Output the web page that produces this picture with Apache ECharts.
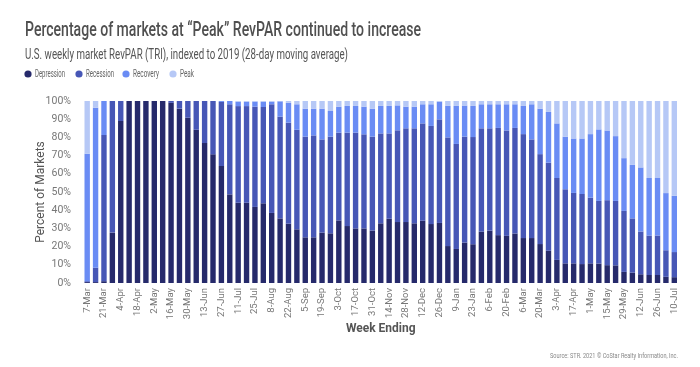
<!DOCTYPE html>
<html>
<head>
<meta charset="utf-8">
<script src="https://cdn.jsdelivr.net/npm/echarts@6/dist/echarts.min.js"></script>
<style>
html,body{margin:0;padding:0;background:#fff;}
#chart{width:700px;height:367px;}
</style>
</head>
<body>
<div id="chart"></div>
<script>
var weeks = ['7-Mar','14-Mar','21-Mar','28-Mar','4-Apr','11-Apr','18-Apr','25-Apr','2-May','9-May','16-May','23-May','30-May','6-Jun','13-Jun','20-Jun','27-Jun','4-Jul','11-Jul','18-Jul','25-Jul','1-Aug','8-Aug','15-Aug','22-Aug','29-Aug','5-Sep','12-Sep','19-Sep','26-Sep','3-Oct','10-Oct','17-Oct','24-Oct','31-Oct','7-Nov','14-Nov','21-Nov','28-Nov','5-Dec','12-Dec','19-Dec','26-Dec','2-Jan','9-Jan','16-Jan','23-Jan','30-Jan','6-Feb','13-Feb','20-Feb','27-Feb','6-Mar','13-Mar','20-Mar','27-Mar','3-Apr','10-Apr','17-Apr','24-Apr','1-May','8-May','15-May','22-May','29-May','5-Jun','12-Jun','19-Jun','26-Jun','3-Jul','10-Jul'];

var depression = [0.5,0.5,1,27.7,89,100,100,100,100,100,99,95.8,90.8,84.2,76.9,70.7,64.3,48.7,44.1,44.1,41.8,43.8,38.5,35.5,32.6,29.5,25.1,25.1,27.7,27.3,34.4,31.3,30,30,28.8,32.8,35.3,33.5,33.5,32.8,34.2,32.4,33,20.3,18.7,22.2,21.3,28.2,28.8,26.3,25.9,27.2,24.7,24.7,21.4,17.7,12.7,10.8,10.8,10.4,10.8,10.7,9.8,9.7,6.1,5.7,4.8,4.4,4.4,3.4,3.2];
var recession = [0.5,7.9,80.3,72.3,11,0,0,0,0,0,1,4.2,9.2,15.8,23.1,29.3,35.2,49.5,53.1,53.1,55.1,52.9,59.7,55.9,55.5,54.7,55.3,56,51.2,53.1,48.2,51.3,52.6,51.7,51.6,49.4,46.9,50.4,51.5,52.2,53.5,53.9,56.9,59.7,57.7,58.2,58.9,56.8,56.2,58.9,57.9,58,57.1,54.2,49.4,48.4,45,40.7,38.7,38.5,36.1,34.4,35.7,35.4,33.5,29.8,23.5,21.7,21.7,14.6,13.8];
var recovery = [70,87.9,18.7,0,0,0,0,0,0,0,0,0,0,0,0,0,0.5,1.8,2.4,2.4,2.7,2.9,1.4,8.4,10.9,14,15.4,14.7,16.9,14.1,14.3,14.7,14.7,15.2,15.4,15.1,15.1,13.7,11.9,11.9,10.5,11.9,9.7,17.3,20.9,17.1,17.1,13.2,13.2,13,14.4,13,15.5,19.3,25,27.9,30,28.9,29.9,30.5,34.9,39.3,38.3,35.6,29,29.4,35.2,31.6,31.6,31.4,30.9];
var peak = [29,3.7,0,0,0,0,0,0,0,0,0,0,0,0,0,0,0,0,0.4,0.4,0.4,0.4,0.4,0.2,1,1.8,4.2,4.2,4.2,5.5,3.1,2.7,2.7,3.1,4.2,2.7,2.7,2.4,3.1,3.1,1.8,1.8,0.4,2.7,2.7,2.5,2.7,1.8,1.8,1.8,1.8,1.8,2.7,1.8,4.2,6,12.3,19.6,20.6,20.6,18.2,15.6,16.2,19.3,31.4,35.1,36.5,42.3,42.3,50.6,52.1];

var yTicks = [0,10,20,30,40,50,60,70,80,90,100];
var seriesNames = ['Depression','Recession','Recovery','Peak'];
var titleText = 'Percentage of markets at \u201cPeak\u201d RevPAR continued to increase';
var subtitleText = 'U.S. weekly market RevPAR (TRI), indexed to 2019 (28-day moving average)';
var sourceText = 'Source: STR. 2021 \u00a9 CoStar Realty Information, Inc.';

var FONT = "Roboto";
var colors = ['#262a6b','#4757b6','#6a8cf4','#b6c8f6'];
var seriesData = [depression, recession, recovery, peak];

var measureCtx = document.createElement('canvas').getContext('2d');
function textWidth(t, size, weight){
  measureCtx.font = (weight||'normal') + ' ' + size + 'px ' + FONT;
  return measureCtx.measureText(t).width;
}
// condensed text: horizontally scaled to a target width
function condText(t, x, y, size, targetW, color, weight){
  var s = targetW / textWidth(t, size, weight);
  return {type:'text', x:x, y:y, scaleX:s, scaleY:1, silent:true,
    style:{text:t, x:0, y:0, fill:color, font:(weight||'normal')+' '+size+'px '+FONT,
           align:'left', verticalAlign:'middle'}};
}

var graphics = [
  condText(titleText, 25, 30.5, 21, 396, '#505050', '500'),
  condText(subtitleText, 25, 55, 15, 323, '#555'),
  condText(sourceText, 550, 356, 7, 128, '#888')
];
var legendX = [28, 79, 126, 173];
var legendW = [30, 28, 26, 14];
seriesNames.forEach(function(n, i){
  graphics.push({type:'circle', silent:true, shape:{cx:legendX[i], cy:74, r:3.6}, style:{fill:colors[i]}});
  graphics.push(condText(n, legendX[i] + 7, 74, 10, legendW[i], '#666'));
});

var chart = echarts.init(document.getElementById('chart'), null, {renderer:'canvas'});
var option = {
  backgroundColor:'#fff',
  animation:false,
  color: colors,
  graphic: graphics,
  grid:{left:83, right:21.5, top:101, bottom:84, containLabel:false},
  xAxis:{
    type:'category', data:weeks,
    name:'Week Ending', nameLocation:'middle', nameGap:40, nameMoveOverlap:false,
    nameTextStyle:{fontFamily:FONT, fontSize:12, fontWeight:'bold', color:'#555', verticalAlign:'top'},
    axisLine:{show:false}, axisTick:{show:false},
    axisLabel:{interval:1, rotate:90, fontFamily:FONT, fontSize:9.5, color:'#777', margin:5}
  },
  yAxis:{
    type:'value', min:0, max:100, interval:10,
    name:'Percent of Markets', nameLocation:'middle', nameGap:36, nameMoveOverlap:false,
    nameTextStyle:{fontFamily:FONT, fontSize:12, color:'#555'},
    axisLine:{show:false}, axisTick:{show:false}, splitLine:{show:false},
    axisLabel:{formatter:function(v){return yTicks.indexOf(v)>=0? v+'%' : '';}, fontFamily:FONT, fontSize:10.5, color:'#777', margin:12}
  },
  series: seriesNames.map(function(n,i){
    return {name:n, type:'bar', stack:'total', data:seriesData[i], barWidth:5.4,
            itemStyle:{color:colors[i]}};
  })
};
chart.setOption(option);
</script>
</body>
</html>
